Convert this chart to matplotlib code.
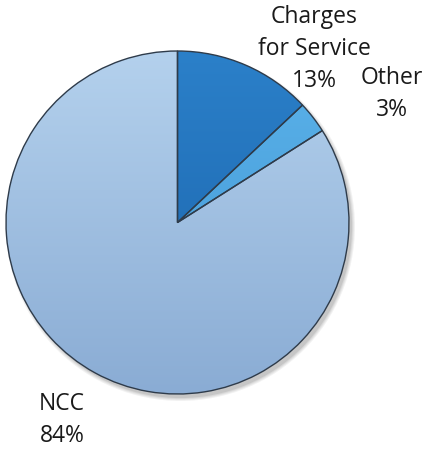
import matplotlib
matplotlib.use("Agg")
import matplotlib.pyplot as plt
import numpy as np
from matplotlib.colors import to_rgb

# data
categories = ["Charges for Service", "Other", "NCC"]
shares = [13, 3, 84]
label_text = ["Charges\nfor Service\n13%", "Other\n3%", "NCC\n84%"]
top_colors = ["#2b80c9", "#5cb3ea", "#b4d1ed"]
bottom_colors = ["#1a62aa", "#3d93d2", "#8aacd4"]

W, H = 425, 449
cx, cy, r = 177.5, H - 222.5, 171.5

fig = plt.figure(figsize=(W / 100, H / 100), dpi=100)
ax = fig.add_axes([0, 0, 1, 1])
ax.axis("off")

# soft drop shadow
for k, a in enumerate([0.05, 0.05, 0.06, 0.08]):
    sh = plt.Circle((cx + 3, cy - 4), r + 3 - k, color="black", alpha=a, lw=0, zorder=1)
    ax.add_patch(sh)

wedges, _ = ax.pie(shares, center=(cx, cy), radius=r, startangle=90,
                   counterclock=False, colors=bottom_colors,
                   wedgeprops=dict(edgecolor="#2e3b4a", linewidth=1.0))

# vertical gradient fill clipped to each wedge, outline kept on top
n = 256
t = np.linspace(0, 1, n)[:, None]
for w, c0, c1 in zip(wedges, top_colors, bottom_colors):
    top = np.array(to_rgb(c0))
    bot = np.array(to_rgb(c1))
    img = (top[None, :] * (1 - t) + bot[None, :] * t)[:, None, :]
    im = ax.imshow(img, extent=(cx - r, cx + r, cy - r, cy + r), origin="upper",
                   aspect="auto", zorder=3, interpolation="bilinear")
    im.set_clip_path(w)
    w.set_facecolor("none")
    w.set_zorder(4)

ax.set_xlim(0, W)
ax.set_ylim(0, H)
ax.set_aspect("equal")

font = dict(family=["Open Sans", "DejaVu Sans"], fontsize=16.5, color="#1a1a1a",
            ha="center", va="center", linespacing=1.45)
label_pos = [(314, 49), (392, 94), (62, 420)]
for txt, (x, y) in zip(label_text, label_pos):
    ax.text(x, H - y, txt, **font)

fig.savefig("out.png", dpi=100)
